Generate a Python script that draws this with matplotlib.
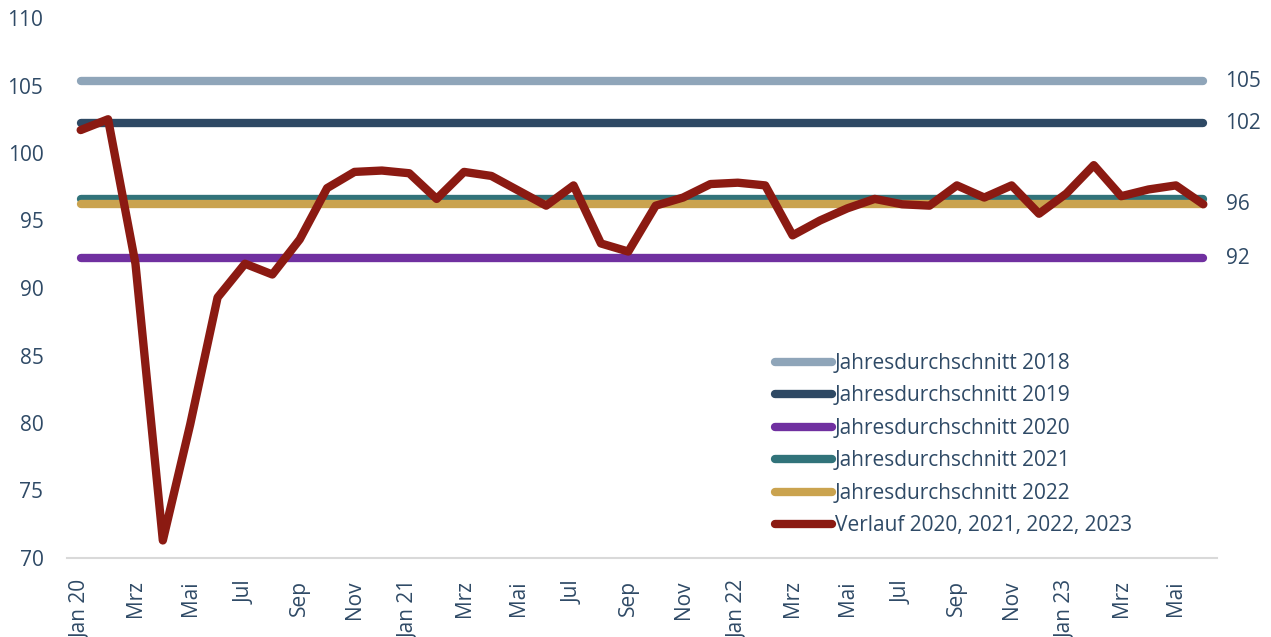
import matplotlib.pyplot as plt
import numpy as np

# monthly values Jan 2020 - Jun 2023
verlauf = [101.7, 102.5, 91.8, 71.3, 79.9, 89.3, 91.8, 91.0, 93.6, 97.4, 98.6, 98.7,
           98.5, 96.6, 98.6, 98.3, 97.2, 96.1, 97.6, 93.3, 92.7, 96.1, 96.7, 97.7,
           97.8, 97.6, 93.9, 95.0, 95.9, 96.6, 96.2, 96.1, 97.6, 96.7, 97.6, 95.5,
           97.0, 99.1, 96.8, 97.3, 97.6, 96.2]

avg_years = ["2018", "2019", "2020", "2021", "2022"]
avg_values = [105.3, 102.2, 92.2, 96.6, 96.2]
avg_colors = ["#8FA5B9", "#2E4964", "#7030A0", "#31737A", "#CAA34F"]
right_labels = {"2018": "105", "2019": "102", "2020": "92", "2022": "96"}

tick_labels = ["Jan 20", "Mrz", "Mai", "Jul", "Sep", "Nov",
               "Jan 21", "Mrz", "Mai", "Jul", "Sep", "Nov",
               "Jan 22", "Mrz", "Mai", "Jul", "Sep", "Nov",
               "Jan 23", "Mrz", "Mai"]

text_color = "#2F4A66"
red = "#8B1A12"

plt.rcParams['font.family'] = ['Open Sans', 'DejaVu Sans']

fig = plt.figure(figsize=(12.71, 6.37), dpi=100)
ax = fig.add_axes([67 / 1271, 79 / 637, 1150 / 1271, 540 / 637])

x = np.arange(len(verlauf))
lw = 6.0

# yearly averages as flat lines, with value labels on the right
for year, val, col in zip(avg_years, avg_values, avg_colors):
    ax.plot([x[0], x[-1]], [val, val], color=col, lw=lw, solid_capstyle='round',
            label=f"Jahresdurchschnitt {year}")
    if year in right_labels:
        ax.annotate(right_labels[year], xy=(x[-1], val), xytext=(16, 0),
                    textcoords='offset points', va='center', ha='left',
                    fontsize=15, color=text_color, annotation_clip=False)

ax.plot(x, verlauf, color=red, lw=lw, solid_capstyle='round', solid_joinstyle='round',
        label="Verlauf 2020, 2021, 2022, 2023")

ax.set_xlim(-0.5, len(verlauf) - 0.5)
ax.set_ylim(70, 110)
ax.set_yticks(np.arange(70, 111, 5))
ax.set_xticks(x[::2])
ax.set_xticklabels(tick_labels, rotation=90, va='top', ha='center')

ax.tick_params(axis='both', length=0, labelsize=15, colors=text_color)
ax.tick_params(axis='y', pad=17)
ax.tick_params(axis='x', pad=16)
for s in ['top', 'right', 'left']:
    ax.spines[s].set_visible(False)
ax.spines['bottom'].set_color('#D9D9D9')
ax.spines['bottom'].set_linewidth(1.5)

leg = ax.legend(loc='upper left', bbox_to_anchor=(775 / 1271, 1 - 353 / 637),
                bbox_transform=fig.transFigure, frameon=False, fontsize=15,
                handlelength=2.75, handletextpad=0.12, labelspacing=0.55,
                borderpad=0, borderaxespad=0)
for t in leg.get_texts():
    t.set_color(text_color)

fig.savefig("out.png", dpi=100)
